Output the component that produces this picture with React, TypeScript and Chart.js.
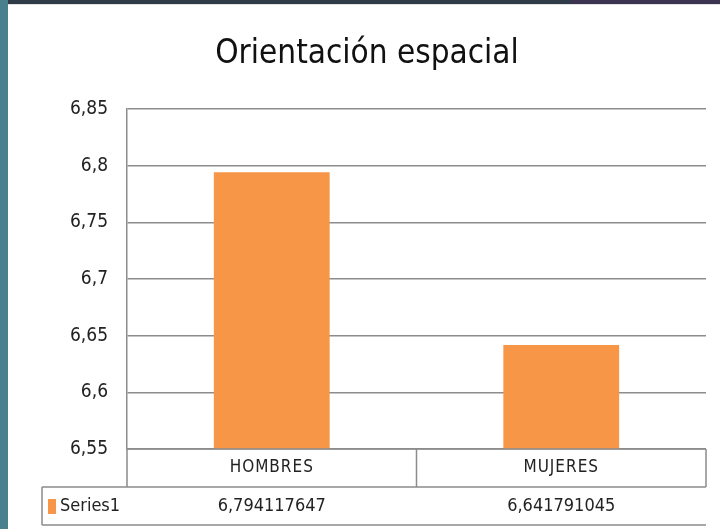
import React, { useEffect, useRef } from "react";
import { Chart, registerables } from "chart.js";

Chart.register(...registerables);

const title = "Orientación espacial";
const categories = ["HOMBRES", "MUJERES"];
const seriesName = "Series1";
const values = [6.794117647, 6.641791045];
const yTickValues = [6.55, 6.6, 6.65, 6.7, 6.75, 6.8, 6.85];

const FONT = "'Liberation Sans Narrow', 'DejaVu Sans Condensed', 'Liberation Sans', sans-serif";
const BAR_COLOR = "#F79646";
const LINE_COLOR = "#8c8c8c";
const TEXT_COLOR = "#222222";

const fmtTick = (v: number) => String(Number(v.toFixed(2))).replace(".", ",");
const fmtValue = (v: number) => String(v).replace(".", ",");

const backgroundPlugin = {
  id: "bgPlugin",
  beforeDraw(chart: any) {
    const { ctx, width, height } = chart;
    ctx.save();
    ctx.fillStyle = "#ffffff";
    ctx.fillRect(0, 0, width, height);
    // slide frame decoration
    ctx.fillStyle = "#2f3b46";
    ctx.fillRect(0, 0, width, 4);
    ctx.fillStyle = "#3a3450";
    ctx.fillRect(570, 0, width - 570, 5);
    ctx.fillStyle = "#4a7f8e";
    ctx.fillRect(0, 0, 8, height);
    ctx.fillStyle = "#e0e0e0";
    ctx.fillRect(8, 4, width - 8, 1);
    ctx.restore();
  },
};

const titlePlugin = {
  id: "customTitle",
  afterDraw(chart: any) {
    const { ctx } = chart;
    ctx.save();
    ctx.fillStyle = "#111111";
    ctx.font = `33px ${FONT}`;
    ctx.textAlign = "center";
    ctx.textBaseline = "alphabetic";
    ctx.fillText(title, 367, 63);
    ctx.restore();
  },
};

const dataTablePlugin = {
  id: "dataTable",
  afterDraw(chart: any) {
    const { ctx, chartArea } = chart;
    const xScale = chart.scales.x;
    const rowH = 38;
    const left = chartArea.left;
    const right = chartArea.right;
    const top = chartArea.bottom;
    const tableLeft = 42;
    ctx.save();
    ctx.strokeStyle = LINE_COLOR;
    ctx.lineWidth = 1.5;
    ctx.beginPath();
    // category row box
    ctx.moveTo(left, top);
    ctx.lineTo(right, top);
    ctx.moveTo(left, top);
    ctx.lineTo(left, top + rowH);
    ctx.moveTo(right, top);
    ctx.lineTo(right, top + rowH);
    for (let i = 1; i < categories.length; i++) {
      const x = (xScale.getPixelForValue(i - 1) + xScale.getPixelForValue(i)) / 2;
      ctx.moveTo(x, top);
      ctx.lineTo(x, top + rowH);
    }
    // value row box
    ctx.moveTo(tableLeft, top + rowH);
    ctx.lineTo(right, top + rowH);
    ctx.moveTo(tableLeft, top + rowH);
    ctx.lineTo(tableLeft, top + rowH * 2);
    ctx.moveTo(tableLeft, top + rowH * 2);
    ctx.lineTo(right, top + rowH * 2);
    ctx.stroke();

    // category labels
    const catY = top + rowH / 2;
    ctx.fillStyle = TEXT_COLOR;
    ctx.font = `17px ${FONT}`;
    ctx.textBaseline = "middle";
    ctx.textAlign = "center";
    (ctx as any).letterSpacing = "1px";
    categories.forEach((c, i) => {
      ctx.fillText(c, xScale.getPixelForValue(i), catY);
    });
    (ctx as any).letterSpacing = "0px";

    // legend key + values
    const midY = top + rowH + rowH / 2;
    ctx.fillStyle = BAR_COLOR;
    ctx.fillRect(48, midY - 7, 8, 15);
    ctx.fillStyle = TEXT_COLOR;
    ctx.font = `18px ${FONT}`;
    ctx.textAlign = "left";
    ctx.fillText(seriesName, 60, midY);
    ctx.textAlign = "center";
    values.forEach((v, i) => {
      ctx.fillText(fmtValue(v), xScale.getPixelForValue(i), midY);
    });
    ctx.restore();
  },
};

export default function App() {
  const canvasRef = useRef<HTMLCanvasElement | null>(null);

  useEffect(() => {
    if (!canvasRef.current) return;
    const chart = new Chart(canvasRef.current, {
      type: "bar",
      data: {
        labels: categories,
        datasets: [
          {
            label: seriesName,
            data: values,
            backgroundColor: BAR_COLOR,
            borderWidth: 0,
            barPercentage: 0.4,
            categoryPercentage: 1,
          },
        ],
      },
      options: {
        responsive: false,
        animation: false,
        layout: { padding: { left: 8, right: 14, top: 109, bottom: 4 } },
        plugins: {
          legend: { display: false },
          tooltip: { enabled: false },
          title: { display: false },
        },
        scales: {
          x: {
            grid: { display: false, drawTicks: false },
            border: { display: false },
            ticks: { display: false },
            afterFit(scale: any) {
              scale.height = 76;
            },
          },
          y: {
            min: 6.55,
            max: 6.85,
            afterBuildTicks(scale: any) {
              scale.ticks = yTickValues.map((v) => ({ value: v }));
            },
            grid: { color: LINE_COLOR, lineWidth: 1.5, drawTicks: false },
            border: { display: true, color: LINE_COLOR, width: 1.5 },
            ticks: {
              color: TEXT_COLOR,
              font: { family: FONT, size: 19 },
              padding: 19,
              callback: (v: any) => fmtTick(Number(v)),
            },
            afterFit(scale: any) {
              scale.width = 119;
            },
          },
        },
      },
      plugins: [backgroundPlugin, titlePlugin, dataTablePlugin],
    });
    return () => chart.destroy();
  }, []);

  return (
    <div style={{ position: "absolute", left: 0, top: 0, width: 720, height: 529 }}>
      <canvas ref={canvasRef} width={720} height={529} style={{ display: "block" }} />
    </div>
  );
}
